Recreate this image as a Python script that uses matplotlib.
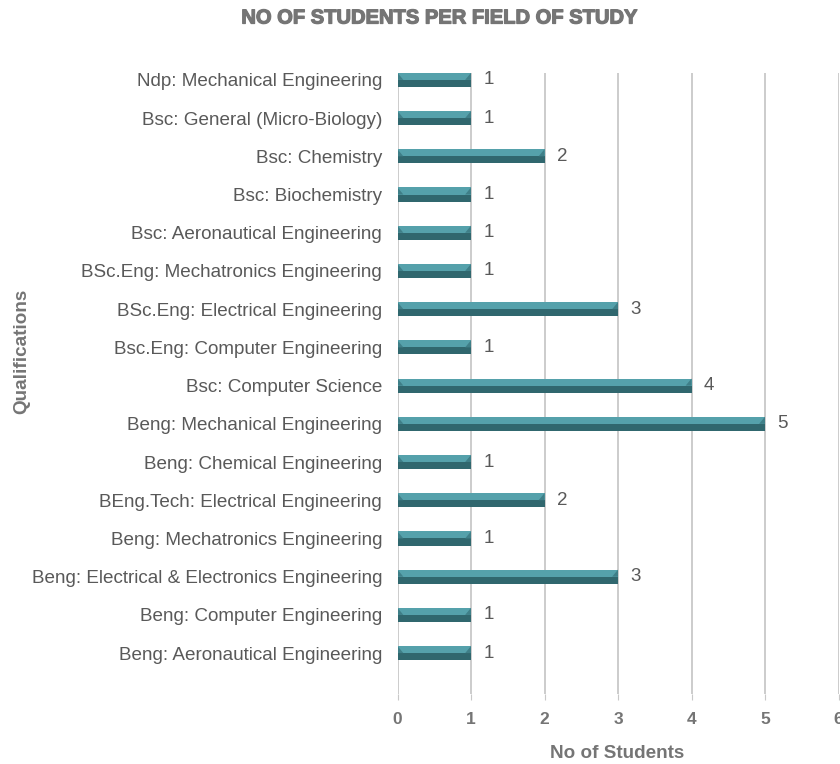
import matplotlib
matplotlib.use("Agg")
import matplotlib.pyplot as plt
from matplotlib.patches import Polygon
import matplotlib.patheffects as pe
import numpy as np

plt.rcParams['font.family'] = ['Liberation Sans', 'DejaVu Sans']

categories = [
    "Beng: Aeronautical Engineering",
    "Beng: Computer Engineering",
    "Beng: Electrical & Electronics Engineering",
    "Beng: Mechatronics Engineering",
    "BEng.Tech: Electrical Engineering",
    "Beng: Chemical Engineering",
    "Beng: Mechanical Engineering",
    "Bsc: Computer Science",
    "Bsc.Eng: Computer Engineering",
    "BSc.Eng: Electrical Engineering",
    "BSc.Eng: Mechatronics Engineering",
    "Bsc: Aeronautical Engineering",
    "Bsc: Biochemistry",
    "Bsc: Chemistry",
    "Bsc: General (Micro-Biology)",
    "Ndp: Mechanical Engineering",
]
students = [1, 1, 3, 1, 2, 1, 5, 4, 1, 3, 1, 1, 1, 2, 1, 1]
x_ticks = [0, 1, 2, 3, 4, 5, 6]

title = "NO OF STUDENTS PER FIELD OF STUDY"
xlabel = "No of Students"
ylabel = "Qualifications"

light = "#55a1ab"
dark = "#30676e"
bevel_c = "#3f7f88"
gray_text = "#595959"
axis_text = "#757575"
grid_c = "#c8c8c8"

fig = plt.figure(figsize=(8.4, 7.64), dpi=100)
ax = fig.add_axes([397.5/840, 1-694/764, (838.5-397.5)/840, (694-73)/764])

y = np.arange(len(categories))
h = 0.37
ax.barh(y, students, height=h, color=dark, zorder=3, edgecolor="none")
ax.barh(y + h/4, students, height=h/2, color=light, zorder=3, edgecolor="none")
bev = 0.08
for yi, v in zip(y, students):
    top = yi + h/2
    # darker bevel triangles on upper half at both ends
    ax.add_patch(Polygon([[0, top], [bev, yi], [0, yi]],
                         closed=True, color=bevel_c, zorder=4, lw=0))
    ax.add_patch(Polygon([[v, top], [v - bev, yi], [v, yi]],
                         closed=True, color=bevel_c, zorder=4, lw=0))
    ax.text(v + 0.165, yi, str(v), va="center", ha="left", fontsize=13.5, color=gray_text)

ax.set_xlim(0, 6)
ax.set_ylim(-1.07, 15.18)
ax.set_xticks(x_ticks)
ax.set_xticklabels([str(t) for t in x_ticks], fontsize=12.5, fontweight="bold", color=axis_text)
ax.set_yticks(y)
ax.set_yticklabels(categories, fontsize=13.6, color=gray_text)
ax.tick_params(axis="y", length=0, pad=11)
ax.tick_params(axis="x", length=4, color=grid_c, pad=9, direction="out")
ax.xaxis.grid(True, color=grid_c, lw=1.3, zorder=0)
ax.set_axisbelow(True)
for s in ax.spines.values():
    s.set_visible(False)

fig.text(440/840, 1-18/764, title, ha="center", va="center", fontsize=14.5,
         fontweight="bold", color=axis_text,
         path_effects=[pe.withStroke(linewidth=0.9, foreground=axis_text)])
fig.text(617/840, 1-753/764, xlabel, ha="center", va="center", fontsize=13.6,
         fontweight="bold", color=axis_text)
fig.text(22/840, 1-351/764, ylabel, ha="center", va="center", fontsize=13.6,
         fontweight="bold", color=axis_text, rotation=90)

fig.savefig("out.png", dpi=100)
